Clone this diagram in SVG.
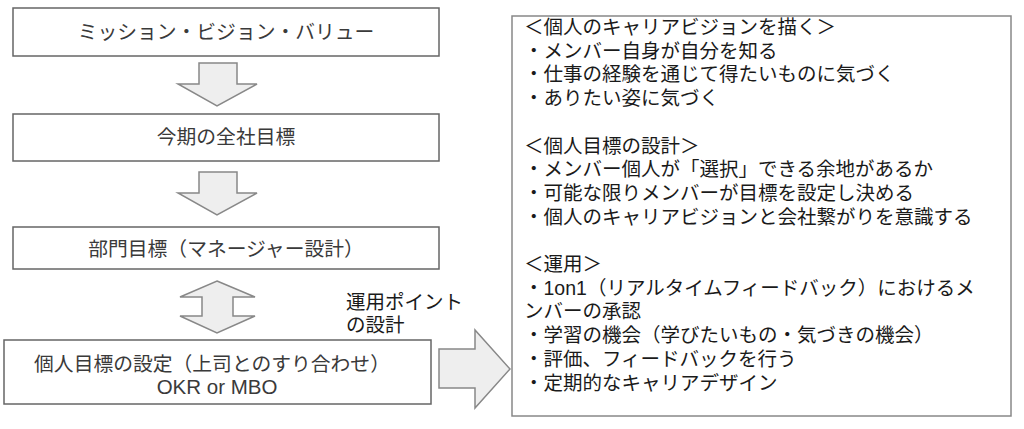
<svg xmlns="http://www.w3.org/2000/svg" width="1024" height="429" viewBox="0 0 1024 429">
<style>
.box{fill:#fff;stroke:#666;stroke-width:1.5}
.arr{fill:#eeeeee;stroke:#888;stroke-width:1.5;stroke-linejoin:miter}
.t{font-family:"Liberation Sans","Noto Sans CJK JP",sans-serif;font-size:19.8px;fill:#3a3a3a}
.c{text-anchor:middle}
.r{font-family:"Liberation Sans","Noto Sans CJK JP",sans-serif;font-size:19.5px;fill:#1a1a1a}
.l{font-family:"Liberation Sans","Noto Sans CJK JP",sans-serif;font-size:19.5px;fill:#1a1a1a}
</style>
<rect width="1024" height="429" fill="#fff"/>
<g id="n1"><rect class="box" x="13" y="8" width="426" height="48"/><text class="t c" x="226" y="39">ミッション・ビジョン・バリュー</text></g>
<g id="n2"><rect class="box" x="13" y="114" width="426" height="47"/><text class="t c" x="226" y="144">今期の全社目標</text></g>
<g id="n3"><rect class="box" x="13" y="227" width="426" height="42"/><text class="t c" x="226" y="256">部門目標（マネージャー設計）</text></g>
<g id="n4"><rect class="box" x="4" y="340" width="427" height="64"/><text class="t c" x="212" y="371">個人目標の設定（上司とのすり合わせ）</text><text class="t c" x="217" y="394" style="font-size:20.5px">OKR or MBO</text></g>
<g id="n5"><rect class="box" x="512" y="16" width="499" height="400" style="stroke:#888"/>
<text class="r" x="524" y="34"><tspan x="524">＜個人のキャリアビジョンを描く＞</tspan><tspan x="524" dy="23.7">・メンバー自身が自分を知る</tspan><tspan x="524" dy="23.7">・仕事の経験を通じて得たいものに気づく</tspan><tspan x="524" dy="23.7">・ありたい姿に気づく</tspan><tspan x="524" dy="47.4">＜個人目標の設計＞</tspan><tspan x="524" dy="23.7">・メンバー個人が「選択」できる余地があるか</tspan><tspan x="524" dy="23.7">・可能な限りメンバーが目標を設定し決める</tspan><tspan x="524" dy="23.7">・個人のキャリアビジョンと会社繋がりを意識する</tspan><tspan x="524" dy="47.4">＜運用＞</tspan><tspan x="524" dy="23.7">・1on1（リアルタイムフィードバック）におけるメ</tspan><tspan x="524" dy="23.7">ンバーの承認</tspan><tspan x="524" dy="23.7">・学習の機会（学びたいもの・気づきの機会）</tspan><tspan x="524" dy="23.7">・評価、フィードバックを行う</tspan><tspan x="524" dy="23.7">・定期的なキャリアデザイン</tspan></text>
</g>
<g id="label"><text class="l" x="346" y="309">運用ポイント</text><text class="l" x="346" y="332">の設計</text></g>
<g id="connectors">
<polygon class="arr" points="199,63 237,63 237,84 257,84 217,106 178,84 199,84"/>
<polygon class="arr" points="199,172 237,172 237,193 257,193 217,215 178,193 199,193"/>
<polygon class="arr" points="217,281 255,297 233,297 233,316 255,316 217,333 180,316 202,316 202,297 180,297"/>
<polygon class="arr" points="439,349 475,349 475,330 510,369 475,408 475,388 439,388"/>
</g>
</svg>
